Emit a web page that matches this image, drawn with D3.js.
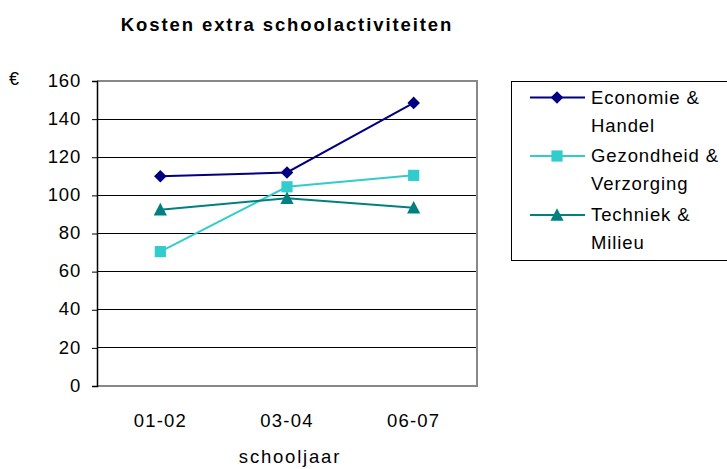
<!DOCTYPE html>
<html>
<head>
<meta charset="utf-8">
<script src="https://cdn.jsdelivr.net/npm/d3@7"></script>
<style>
  body { margin: 0; background: #fff; }
  text { font-family: "Liberation Sans", Arial, sans-serif; fill: #000; }
</style>
</head>
<body>
<div id="chart"></div>
<script>
// data
const years = ["01-02", "03-04", "06-07"];
const economie = [110, 112, 148.5];
const gezondheid = [70.5, 104.5, 110.5];
const techniek = [92.5, 98.5, 93.5];
const yTicks = [0, 20, 40, 60, 80, 100, 120, 140, 160];
const seriesNames = [["Economie &", "Handel"], ["Gezondheid &", "Verzorging"], ["Techniek &", "Milieu"]];

const series = [
  { name: seriesNames[0], values: economie, color: "#000080", symbol: "diamond" },
  { name: seriesNames[1], values: gezondheid, color: "#33CCCC", symbol: "square" },
  { name: seriesNames[2], values: techniek, color: "#008080", symbol: "triangle" }
];

const width = 727, height = 469;
const plot = { left: 97, right: 477, top: 81, bottom: 386 };

const svg = d3.select("#chart").append("svg")
  .attr("width", width)
  .attr("height", height);

const x = d3.scaleBand().domain(years).range([plot.left, plot.right]);
const y = d3.scaleLinear().domain([0, 160]).range([plot.bottom, plot.top]);

// excel-like marker shapes
const markerPath = {
  diamond: "M0,-6.3L6.3,0L0,6.3L-6.3,0Z",
  square: "M-5.6,-5.6H5.6V5.6H-5.6Z",
  triangle: "M0,-6.8L6.6,5.8H-6.6Z"
};

// gridlines
svg.append("g")
  .selectAll("line")
  .data(yTicks.filter(d => d > 0 && d < 160))
  .join("line")
  .attr("x1", plot.left).attr("x2", plot.right)
  .attr("y1", d => y(d)).attr("y2", d => y(d))
  .attr("stroke", "#000").attr("stroke-width", 1)
  .attr("shape-rendering", "crispEdges");

// plot frame (grey top/right/bottom)
svg.append("path")
  .attr("d", `M${plot.left},${plot.top}H${plot.right}V${plot.bottom}H${plot.left}`)
  .attr("fill", "none").attr("stroke", "#888").attr("stroke-width", 1.5)
  .attr("shape-rendering", "crispEdges");

// left axis
const yAxis = svg.append("g")
  .attr("transform", `translate(${plot.left},0)`)
  .call(d3.axisLeft(y).tickValues(yTicks).tickSize(5).tickPadding(11));
yAxis.select(".domain").attr("stroke", "#000").attr("stroke-width", 1.5);
yAxis.selectAll("text")
  .style("font-size", "18.5px")
  .style("letter-spacing", "0.8px")
  .attr("dy", "0.28em");

svg.append("text")
  .attr("x", 9).attr("y", 85)
  .style("font-size", "18px")
  .text("€");

// x labels
svg.append("g")
  .selectAll("text")
  .data(years)
  .join("text")
  .attr("x", d => x(d) + x.bandwidth() / 2)
  .attr("y", 427)
  .attr("text-anchor", "middle")
  .style("font-size", "18.5px")
  .style("letter-spacing", "1.2px")
  .text(d => d);

svg.append("text")
  .attr("x", 290).attr("y", 463)
  .attr("text-anchor", "middle")
  .style("font-size", "18.5px")
  .style("letter-spacing", "1.8px")
  .text("schooljaar");

// title
svg.append("text")
  .attr("x", 287).attr("y", 30.5)
  .attr("text-anchor", "middle")
  .style("font-size", "18.5px")
  .style("font-weight", "bold")
  .style("letter-spacing", "1.9px")
  .text("Kosten extra schoolactiviteiten");

const line = d3.line()
  .x((d, i) => x(years[i]) + x.bandwidth() / 2)
  .y(d => y(d));

series.forEach(s => {
  svg.append("path")
    .attr("d", line(s.values))
    .attr("fill", "none")
    .attr("stroke", s.color)
    .attr("stroke-width", 2);

  svg.append("g")
    .selectAll("path")
    .data(s.values)
    .join("path")
    .attr("d", markerPath[s.symbol])
    .attr("fill", s.color)
    .attr("transform", (d, i) => `translate(${x(years[i]) + x.bandwidth() / 2},${y(d)})`);
});

// legend
const legend = svg.append("g");
legend.append("rect")
  .attr("x", 511.5).attr("y", 81.5)
  .attr("width", 220).attr("height", 179)
  .attr("fill", "#fff").attr("stroke", "#000").attr("stroke-width", 1);

const rowBase = [103.5, 162, 221];
series.forEach((s, i) => {
  const g = legend.append("g").attr("transform", `translate(0,${rowBase[i]})`);
  g.append("line")
    .attr("x1", 530).attr("x2", 585)
    .attr("y1", -6).attr("y2", -6)
    .attr("stroke", s.color).attr("stroke-width", 2);
  g.append("path")
    .attr("d", markerPath[s.symbol])
    .attr("fill", s.color)
    .attr("transform", "translate(557,-6)");
  s.name.forEach((t, j) => {
    g.append("text")
      .attr("x", 591).attr("y", j * 28)
      .style("font-size", "18.5px")
      .style("letter-spacing", "0.9px")
      .text(t);
  });
});
</script>
</body>
</html>
